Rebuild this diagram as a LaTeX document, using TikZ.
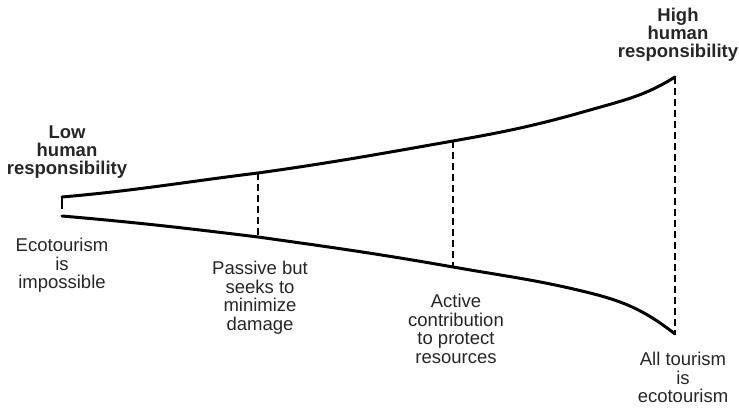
\documentclass[tikz,border=0pt]{standalone}
\usepackage{fontspec}
\setmainfont{Liberation Sans}
\tikzset{
  label/.style={anchor=north, inner sep=0pt, align=center, text=black!85, font=\fontsize{18.5}{18.5}\selectfont},
  heading/.style={label, font=\fontsize{18.5}{17.8}\selectfont\bfseries},
  edge/.style={line width=3pt, line cap=round},
  level/.style={line width=1.1pt, dash pattern=on 7pt off 4pt}
}
\begin{document}
\begin{tikzpicture}[x=1pt, y=-1pt]
\useasboundingbox (0,0) rectangle (739,409);
% points on the upper and lower edge
\coordinate (lowtop) at (62,197);
\coordinate (lowbot) at (62,216);
\coordinate (lowend) at (62,209);
\coordinate (pastop) at (258,173);
\coordinate (pasbot) at (258,237);
\coordinate (acttop) at (453,141);
\coordinate (actbot) at (453,267);
\coordinate (bendtop) at (590,110);
\coordinate (bendbot) at (590,293);
\coordinate (hightop) at (675,77);
\coordinate (highbot) at (675,334);
\draw[edge] (lowtop) to[out=5,in=187] (pastop) to[out=8,in=190] (acttop)
  to[out=10,in=196] (bendtop) to[out=16,in=212] (hightop);
\draw[edge] (lowbot) to[out=-5,in=173] (pasbot) to[out=-8,in=170] (actbot)
  to[out=-10,in=166] (bendbot) to[out=-14,in=142] (highbot);
\draw[line width=1.1pt] (lowtop) -- (lowend);
\draw[level] (pastop) -- (pasbot);
\draw[level] (acttop) -- (actbot);
\draw[level] (hightop) -- (highbot);
% labels
\node[heading] (low) at (67,126) {Low\\human\\responsibility};
\node[heading] (high) at (678,8) {High\\human\\responsibility};
\node[label] (none) at (62,238) {Ecotourism\\is\\impossible};
\node[label] (passive) at (260,261) {Passive but\\seeks to\\minimize\\damage};
\node[label] (active) at (456,294) {Active\\contribution\\to protect\\resources};
\node[label] (all) at (683,352) {All tourism\\is\\ecotourism};
\end{tikzpicture}
\end{document}
